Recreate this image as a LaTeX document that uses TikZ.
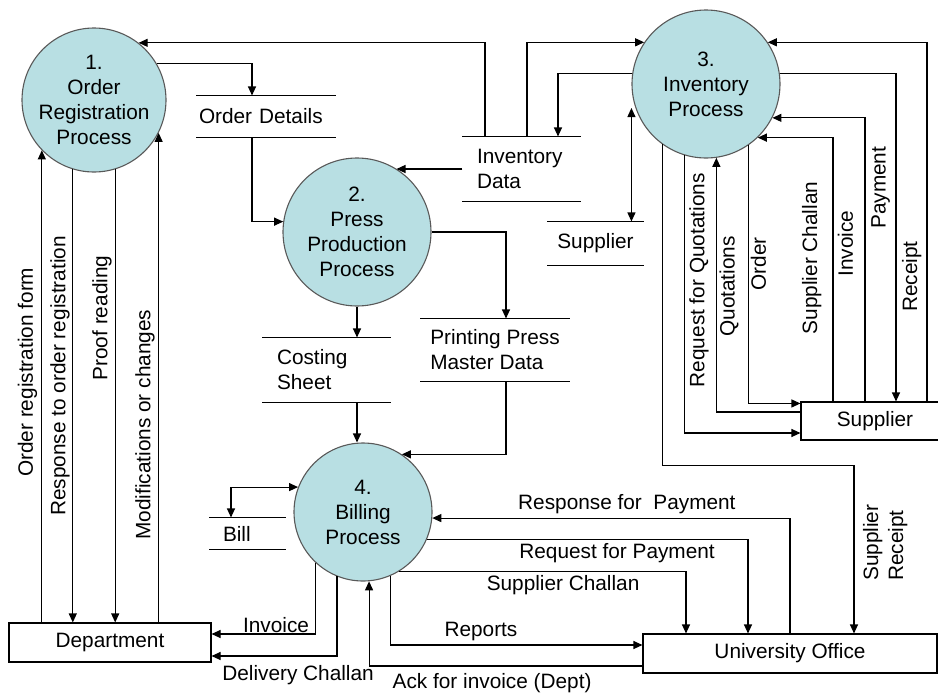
\documentclass[tikz,border=0pt]{standalone}
\usepackage{fontspec}
\setmainfont{Liberation Sans}
\usetikzlibrary{arrows.meta}
\definecolor{procfill}{RGB}{184,223,227}

\begin{document}
\begin{tikzpicture}[x=1pt,y=-1pt,line width=1.1pt,>={Triangle[length=9pt,width=8pt]}]
    \tikzstyle{every node} = [font=\fontsize{20.8}{25}\selectfont]
    \tikzstyle{process} = [draw=black!65, circle, fill=procfill, inner sep=0pt, align=center]
    \tikzstyle{store} = [rectangle, inner sep=0pt, align=left]
    \tikzstyle{entity} = [draw, rectangle, inner sep=0pt, minimum height=39pt]
    \tikzstyle{vlabl} = [rotate=90, anchor=south]
    \tikzstyle{vlabr} = [rotate=90, anchor=north]
    \useasboundingbox (0,0) rectangle (938,697);

    % place processes
    \node[process,minimum size=144pt](p1) at (94,100){1.\\Order\\Registration\\Process};
    \node[process,minimum size=148pt](p2) at (357,232){2.\\Press\\Production\\Process};
    \node[process,minimum size=148pt](p3) at (706,84){3.\\Inventory\\Process};
    \node[process,minimum size=138pt](p4) at (363,512){4.\\Billing\\Process};

    % data stores
    \node[store,minimum width=138pt,minimum height=41pt,text width=134pt](od) at (266,116.5){Order Details};
    \node[store,minimum width=117pt,minimum height=64pt,text width=89pt](inv) at (521.5,169){Inventory\\Data};
    \node[store,minimum width=95pt,minimum height=43pt](sup) at (595.5,243.5){Supplier};
    \node[store,minimum width=127pt,minimum height=64pt,text width=99pt](cs) at (326.5,370){Costing\\Sheet};
    \node[store,minimum width=148pt,minimum height=62pt](pp) at (495,350){Printing Press\\Master Data};
    \node[store,minimum width=75pt,minimum height=31pt,text width=49pt](bill) at (247.5,533.5){Bill};
    \foreach \s in {od,inv,sup,cs,pp,bill}
        \draw (\s.north west) -- (\s.north east) (\s.south west) -- (\s.south east);

    % external entities
    \node[entity,minimum width=202pt](dept) at (110,642.5){Department};
    \node[entity,minimum width=294pt](uni) at (790,653.5){University Office};
    \node[entity,minimum width=148pt,minimum height=38pt](supl) at (875,421){Supplier};

    % Connections
    \draw[->] ([xshift=-36.5pt]inv.north) |- (p1.52);
    \draw[->] ([xshift=5.5pt]inv.north) |- (p3.146);
    \draw[->] (p3.172) -| ([xshift=36.5pt]inv.north);
    \draw[<->] ([yshift=-24pt]p3.west) -- (p3.west |- sup.north);
    \draw[->] (inv.west) -- (inv.west -| p2.58);
    \draw[->] (p1.30) -| ([xshift=-14pt]od.north);
    \draw[->] ([xshift=-14pt]od.south) |- (p2.172);
    \draw[->] (p2.east) -| ([xshift=11pt]pp.north);
    \draw[->] (p2.south) -- (p2.south |- cs.north);
    \draw[->] (p2.south |- cs.south) -- (p2.south |- p4.north);
    \draw[->] ([xshift=11pt]pp.south) |- (p4.56);
    \draw[<->] ([xshift=-16.5pt]bill.north) |- (p4.159);

    % department and order registration
    \draw[->] (dept.north -| p1.224) -- node[pos=0.53,vlabl,inner sep=4pt](lblorf){Order registration form} (p1.224);
    \draw[->] (p1.253) -- node[pos=0.456,vlabl,inner sep=2.5pt](lblrtor){Response to order registration} (p1.253 |- dept.north);
    \draw[->] (p1.287) -- node[pos=0.328,vlabl,inner sep=3pt](lblproof){Proof reading} (p1.287 |- dept.north);
    \draw[->] (dept.north -| p1.333) -- node[pos=0.404,vlabl,inner sep=3.5pt](lblmod){Modifications or changes} (p1.333);

    % inventory and supplier
    \draw[->] (p3.253) |- node[pos=0.225,vlabr,inner sep=4.5pt](lblrfq){Request for Quotations} ([yshift=-12pt]supl.west);
    \draw[->] ([yshift=9pt]supl.west) -| node[pos=0.747,vlabr,inner sep=2.5pt](lblquo){Quotations} (p3.278);
    \draw[->] (p3.305) |- node[pos=0.23,vlabr,inner sep=1.5pt](lblord){Order} ([yshift=-2pt]supl.north west);
    \draw[->] ([xshift=-42pt]supl.north) |- node[pos=0.272,vlabl,inner sep=11pt](lblschal){Supplier Challan} (p3.314);
    \draw[->] ([xshift=-10pt]supl.north) |- node[pos=0.278,vlabl,inner sep=11.5pt](lblinvc){Invoice} (p3.333);
    \draw[->] (p3.8) -| node[pos=0.674,vlabl,inner sep=5.5pt](lblpay){Payment} ([xshift=21pt]supl.north);
    \draw[->] ([xshift=52pt]supl.north) |- node[pos=0.174,vlabl,inner sep=5pt](lblrec){Receipt} (p3.34);
    \draw[->] (p3.234) -- ++(0,321) -| node[pos=0.73,vlabr,inner sep=8.5pt,align=left](lblsrec){Supplier\\Receipt} ([xshift=64pt]uni.north);

    % billing
    \draw[->] (uni.north) |- node[pos=0.728,anchor=south,inner sep=4pt](lblresp){Response for\ \ Payment} (p4.355);
    \draw[->] (p4.337) -| node[pos=0.296,anchor=north,inner sep=3.5pt](lblreq){Request for Payment} ([xshift=-42pt]uni.north);
    \draw[->] (p4.301) -| node[pos=0.286,anchor=north,inner sep=3.5pt](lblschb){Supplier Challan} ([xshift=-104pt]uni.north);
    \draw[->] (p4.293) |- node[pos=0.68,anchor=south,inner sep=4pt](lblrep){Reports} ([yshift=8.5pt]uni.west);
    \draw[->] ([yshift=-12.5pt]uni.west) -| node[pos=0.275,anchor=north,inner sep=7pt](lblack){Ack for invoice (Dept)} (p4.275);
    \draw[->] (p4.227) |- node[pos=0.69,anchor=south,inner sep=1pt](lblinvd){Invoice} ([yshift=8.5pt]dept.east);
    \draw[->] (p4.248) |- node[pos=0.655,anchor=north,inner sep=9pt](lbldel){Delivery Challan} ([yshift=-13.5pt]dept.east);

\end{tikzpicture}
\end{document}
